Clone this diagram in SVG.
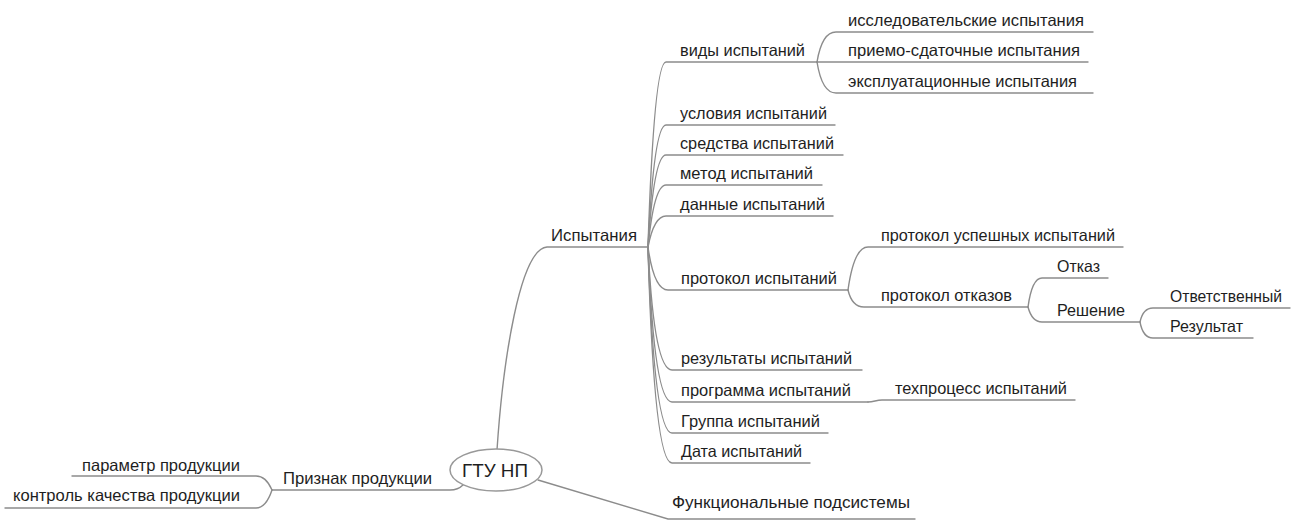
<svg xmlns="http://www.w3.org/2000/svg" width="1295" height="520" viewBox="0 0 1295 520">
  <style>
    .lbl { font-family: "Liberation Sans", Arial, sans-serif; font-size: 16.5px; fill: #1e1e1e; }
    .root { font-family: "Liberation Sans", Arial, sans-serif; font-size: 18px; fill: #1e1e1e; }
    .ln { fill: none; stroke: #8c8c8c; stroke-width: 1.4; stroke-linecap: round; }
    .oval { fill: #ffffff; stroke: #999999; stroke-width: 1.5; }
  </style>
  <rect width="1295" height="520" fill="#ffffff"/>

  <!-- connectors: curved branches ending in the underline of each topic -->
  <g id="connectors">
    <!-- root to main branches -->
    <path class="ln" d="M497,450 C503,360 520,249 547,247 L648,247"/>
    <path class="ln" d="M463,485 Q458,490 450,490 L272,490"/>
    <path class="ln" d="M538,480 L668,519 L915,519"/>

    <!-- Испытания children -->
    <path class="ln" d="M648,247 Q654,62 666,62 L817,62"/>
    <path class="ln" d="M648,247 Q654,125 666,125 L835,125"/>
    <path class="ln" d="M648,247 Q654,155 666,155 L843,155"/>
    <path class="ln" d="M648,247 Q654,185 666,185 L822,185"/>
    <path class="ln" d="M648,247 Q654,216 666,216 L833,216"/>
    <path class="ln" d="M648,247 Q654,290 668,290 L848,290"/>
    <path class="ln" d="M648,247 Q654,370 672,370 L862,370"/>
    <path class="ln" d="M648,247 Q654,402 672,402 L868,402"/>
    <path class="ln" d="M648,247 Q654,433 672,433 L828,433"/>
    <path class="ln" d="M648,247 Q654,463 672,463 L810,463"/>

    <!-- виды испытаний children -->
    <path class="ln" d="M817,62 Q822,32 836,32 L1093,32"/>
    <path class="ln" d="M817,62 L1088,62"/>
    <path class="ln" d="M817,62 Q822,93 836,93 L1093,93"/>

    <!-- протокол испытаний children -->
    <path class="ln" d="M848,290 Q854,247 868,247 L1123,247"/>
    <path class="ln" d="M848,290 Q852,307 864,307 L1028,307"/>

    <!-- протокол отказов children -->
    <path class="ln" d="M1028,307 Q1032,278 1042,278 L1108,278"/>
    <path class="ln" d="M1028,307 Q1032,322 1042,322 L1140,322"/>

    <!-- Решение children -->
    <path class="ln" d="M1140,322 Q1143,308 1153,308 L1290,308"/>
    <path class="ln" d="M1140,322 Q1143,338 1153,338 L1253,338"/>

    <!-- программа испытаний child -->
    <path class="ln" d="M868,402 C874,402 876,400 882,400 L1075,400"/>

    <!-- Признак продукции children -->
    <path class="ln" d="M272,490 Q266,476 256,476 L72,476"/>
    <path class="ln" d="M272,490 Q266,508 256,508 L5,508"/>
  </g>

  <g id="root">
    <ellipse class="oval" cx="496" cy="470" rx="46" ry="21"/>
    <text class="root" x="462" y="477" textLength="66" lengthAdjust="spacingAndGlyphs">ГТУ НП</text>
  </g>

  <g id="n-ispytaniya"><text class="lbl" x="551" y="241" textLength="86" lengthAdjust="spacingAndGlyphs">Испытания</text></g>
  <g id="n-vidy"><text class="lbl" x="680" y="56" textLength="125" lengthAdjust="spacingAndGlyphs">виды испытаний</text></g>
  <g id="n-issled"><text class="lbl" x="848" y="26" textLength="236" lengthAdjust="spacingAndGlyphs">исследовательские испытания</text></g>
  <g id="n-priemo"><text class="lbl" x="848" y="56" textLength="232" lengthAdjust="spacingAndGlyphs">приемо-сдаточные испытания</text></g>
  <g id="n-ekspl"><text class="lbl" x="848" y="87" textLength="229" lengthAdjust="spacingAndGlyphs">эксплуатационные испытания</text></g>
  <g id="n-usloviya"><text class="lbl" x="680" y="119" textLength="147" lengthAdjust="spacingAndGlyphs">условия испытаний</text></g>
  <g id="n-sredstva"><text class="lbl" x="680" y="149" textLength="154" lengthAdjust="spacingAndGlyphs">средства испытаний</text></g>
  <g id="n-metod"><text class="lbl" x="680" y="179" textLength="133" lengthAdjust="spacingAndGlyphs">метод испытаний</text></g>
  <g id="n-dannye"><text class="lbl" x="680" y="210" textLength="145" lengthAdjust="spacingAndGlyphs">данные испытаний</text></g>
  <g id="n-protokol"><text class="lbl" x="681" y="284" textLength="156" lengthAdjust="spacingAndGlyphs">протокол испытаний</text></g>
  <g id="n-uspeh"><text class="lbl" x="881" y="241" textLength="234" lengthAdjust="spacingAndGlyphs">протокол успешных испытаний</text></g>
  <g id="n-otkazov"><text class="lbl" x="881" y="301" textLength="131" lengthAdjust="spacingAndGlyphs">протокол отказов</text></g>
  <g id="n-otkaz"><text class="lbl" x="1057" y="272" textLength="43" lengthAdjust="spacingAndGlyphs">Отказ</text></g>
  <g id="n-reshenie"><text class="lbl" x="1057" y="316" textLength="68" lengthAdjust="spacingAndGlyphs">Решение</text></g>
  <g id="n-otvetstv"><text class="lbl" x="1170" y="302" textLength="112" lengthAdjust="spacingAndGlyphs">Ответственный</text></g>
  <g id="n-rezultat"><text class="lbl" x="1170" y="332" textLength="73" lengthAdjust="spacingAndGlyphs">Результат</text></g>
  <g id="n-rezultaty"><text class="lbl" x="681" y="364" textLength="171" lengthAdjust="spacingAndGlyphs">результаты испытаний</text></g>
  <g id="n-programma"><text class="lbl" x="681" y="396" textLength="170" lengthAdjust="spacingAndGlyphs">программа испытаний</text></g>
  <g id="n-tehprocess"><text class="lbl" x="895" y="394" textLength="172" lengthAdjust="spacingAndGlyphs">техпроцесс испытаний</text></g>
  <g id="n-gruppa"><text class="lbl" x="681" y="427" textLength="139" lengthAdjust="spacingAndGlyphs">Группа испытаний</text></g>
  <g id="n-data"><text class="lbl" x="681" y="457" textLength="121" lengthAdjust="spacingAndGlyphs">Дата испытаний</text></g>
  <g id="n-funkc"><text class="lbl" x="672" y="508" textLength="238" lengthAdjust="spacingAndGlyphs">Функциональные подсистемы</text></g>

  <g id="n-priznak"><text class="lbl" x="283" y="484" textLength="149" lengthAdjust="spacingAndGlyphs">Признак продукции</text></g>
  <g id="n-parametr"><text class="lbl" x="82" y="471" textLength="158" lengthAdjust="spacingAndGlyphs">параметр продукции</text></g>
  <g id="n-kontrol"><text class="lbl" x="13" y="501" textLength="227" lengthAdjust="spacingAndGlyphs">контроль качества продукции</text></g>
</svg>
